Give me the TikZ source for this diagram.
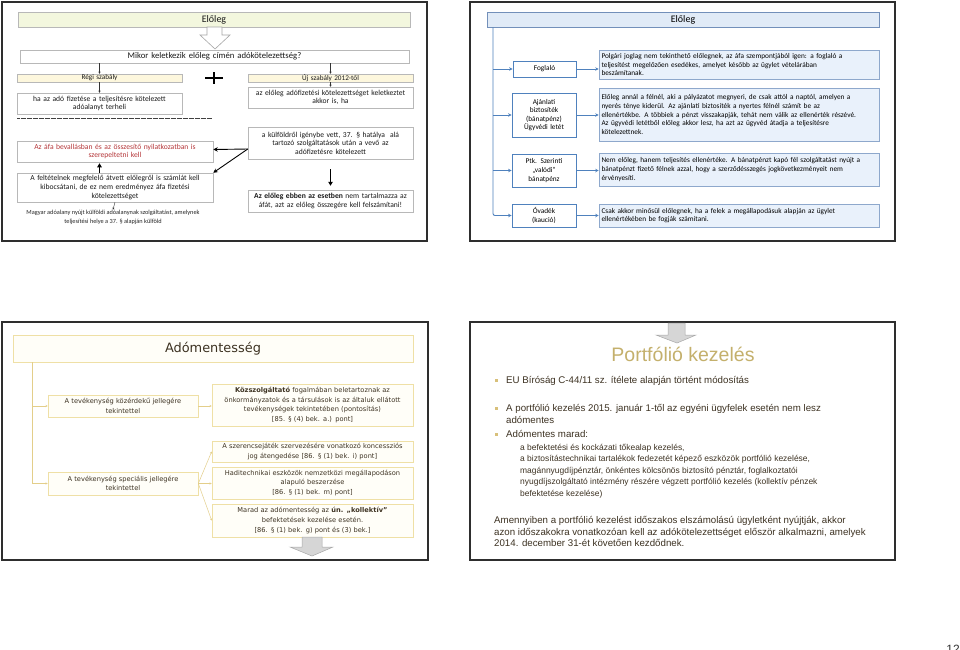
\documentclass[tikz,border=0pt]{standalone}
\usepackage{fontspec}
\setmainfont{Carlito}
\newfontfamily\tahfont{DejaVu Sans}
\newfontfamily\arifont{Liberation Sans}
\usetikzlibrary{arrows.meta,shadows}
\definecolor{framecol}{HTML}{2E2E2E}
\definecolor{tonegreen}{HTML}{F3F7DE}
\definecolor{toneyel}{HTML}{FDF7DD}
\definecolor{boxgray}{HTML}{B8B8B8}
\definecolor{shadowgray}{HTML}{9A9A9A}
\definecolor{myred}{HTML}{B5373A}
\definecolor{bluetitle}{HTML}{E1EBF7}
\definecolor{blueborder}{HTML}{7390BA}
\definecolor{blueline}{HTML}{4F81BD}
\definecolor{bluefill}{HTML}{E9F1FB}
\definecolor{bluedesc}{HTML}{8EA8CC}
\definecolor{tanborder}{HTML}{EFE0A6}
\definecolor{tanline}{HTML}{E3CE8A}
\definecolor{tanfill}{HTML}{FFFEF8}
\definecolor{browntext}{HTML}{3D3222}
\definecolor{khaki}{HTML}{C4B06C}
\definecolor{bulcol}{HTML}{D8C07A}
\definecolor{arrowgray}{HTML}{D6D6D6}
\definecolor{arrowedge}{HTML}{A8A8A8}
\newcommand\mybox[7]{%
  \pgfmathsetmacro\bxw{#5-#3}\pgfmathsetmacro\bxh{#6-#4}%
  \pgfmathsetmacro\bxcx{(#3+#5)/2}\pgfmathsetmacro\bxcy{(#4+#6)/2}%
  \pgfmathsetmacro\bxtw{#5-#3-5}%
  \node[#2, minimum width=\bxw pt, minimum height=\bxh pt, text width=\bxtw pt, inner sep=0pt] (#1) at (\bxcx,\bxcy) {#7};}
\begin{document}
\begin{tikzpicture}[x=1pt,y=-1pt,
  slideframe/.style={draw=framecol, line width=1.4pt},
  shad/.style={drop shadow={shadow xshift=1pt, shadow yshift=-1pt, fill=shadowgray, opacity=1}},
  s1box/.style={draw=boxgray, fill=white, line width=0.5pt, shad, align=center, text=black!90,
     font=\fontsize{7.6}{8.6}\selectfont},
  s1title/.style={s1box, fill=tonegreen, font=\fontsize{10}{12}\selectfont},
  s1yel/.style={s1box, fill=toneyel, font=\fontsize{7.2}{8}\selectfont},
  sarrow/.style={-{Stealth[length=2pt,width=2pt]}, line width=0.4pt, black!80},
  thickarr/.style={-{Triangle[length=4pt,width=4.5pt]}, line width=1.3pt, black},
  karr/.style={-{Stealth[length=4.5pt,width=4.5pt]}, line width=0.9pt, black},
  s2title/.style={draw=blueborder, fill=bluetitle, line width=0.6pt, shad, align=center,
     font=\fontsize{10}{12}\selectfont},
  s2left/.style={draw=blueline, fill=white, line width=0.8pt, align=center,
     font=\fontsize{7.3}{8.6}\selectfont},
  s2desc/.style={draw=bluedesc, fill=bluefill, line width=0.6pt, shad, align=left,
     font=\fontsize{7.3}{8.6}\selectfont},
  barrow/.style={-{Stealth[length=3.5pt,width=3.5pt]}, line width=0.9pt, blueline},
  s3box/.style={draw=tanborder, fill=tanfill, line width=0.6pt, align=center, text=browntext,
     font=\tahfont\fontsize{6.65}{9.6}\selectfont},
  s3title/.style={s3box, font=\tahfont\fontsize{12.9}{15}\selectfont},
  tarrow/.style={-{Stealth[length=2.2pt,width=2.2pt]}, line width=0.5pt, tanline},
  s4text/.style={font=\arifont\fontsize{9.7}{11.6}\selectfont, text=browntext, inner sep=0pt, anchor=base west},
  s4sub/.style={s4text, font=\arifont\fontsize{8.45}{11.6}\selectfont},
  bigarrow/.style={draw=arrowedge, fill=arrowgray, line width=0.5pt}
]
\useasboundingbox (0,0) rectangle (960,649);
\fill[white] (0,0) rectangle (960,649);

% ================= slide 1 =================
\draw[slideframe] (2,2) rectangle (427,241);
\mybox{t1}{s1title}{18}{12}{410}{27}{Előleg}
\draw[draw=gray!70, fill=white, line width=0.6pt] (207,27) -- (222,27) -- (222,35) -- (230,35) -- (215,49) -- (200,35) -- (207,35) -- cycle;
\mybox{q}{s1box, font=\fontsize{8.7}{10}\selectfont}{20}{50}{409}{63}{Mikor keletkezik előleg címén adókötelezettség?}
\mybox{regi}{s1yel}{17}{74}{182}{82}{Régi szabály}
\mybox{uj}{s1yel}{248}{74}{413}{82}{Új szabály 2012-től}
\draw[line width=1.6pt] (205,78) -- (223,78) (214,72) -- (214,84);
\draw[sarrow] (q.south -| regi.north) -- (regi.north);
\draw[sarrow] (q.south -| uj.north) -- (uj.north);
\mybox{ha}{s1box}{17}{93}{182}{114}{ha az adó fizetése a teljesítésre kötelezett\\adóalanyt terheli}
\mybox{az}{s1box}{248}{87}{413}{108}{az előleg adófizetési kötelezettséget keletkeztet\\akkor is, ha}
\draw[sarrow] (regi.south) -- (ha.north);
\draw[sarrow] (uj.south) -- (az.north);
\draw[line width=0.8pt, black!75, dash pattern=on 0.6pt off 0.6pt] (17,118.5) -- (212,118.5);
\mybox{kulf}{s1box}{248}{127}{413}{159}{a külföldről igénybe vett, 37. § hatálya\ \ alá\\tartozó szolgáltatások után a vevő az\\adófizetésre kötelezett}
\mybox{red}{s1box, text=myred}{17}{141}{213}{162}{Az áfa bevallásban és az összesítő nyilatkozatban is\\szerepeltetni kell}
\mybox{felt}{s1box}{17}{173}{213}{202}{A feltételnek megfelelő átvett előlegről is számlát kell\\kibocsátani, de ez nem eredményez áfa fizetési\\kötelezettséget}
\coordinate (kfrom) at ([yshift=-6pt]kulf.west);
\draw[karr] (kfrom) -- ([yshift=2pt]red.east);
\draw[karr] (kfrom) -- (felt.north east);
\draw[thickarr] (felt.north -| regi.south) -- ([yshift=-1pt]red.south -| regi.south);
\node[font=\fontsize{6.3}{9}\selectfont, align=center, text=black!85, inner sep=0pt] (magy) at (113,217)
  {Magyar adóalany nyújt külföldi adóalanynak szolgáltatást, amelynek\\teljesítési helye a 37. § alapján külföld};
\draw[sarrow] (felt.south) -- (magy.north);
\mybox{eleg}{s1box}{248}{190}{413}{212}{\textbf{Az előleg ebben az esetben} nem tartalmazza az\\áfát, azt az előleg összegére kell felszámítani!}
\draw[thickarr] ([yshift=-10pt]kulf.south) -- ([yshift=4pt]eleg.north);

% ================= slide 2 =================
\draw[slideframe] (470,2) rectangle (895,241);
\mybox{t2}{s2title}{487}{12}{879}{27}{Előleg}
\mybox{fog}{s2left}{513}{61}{576}{77}{Foglaló}
\mybox{aja}{s2left}{512}{93}{576}{137}{Ajánlati\\biztosíték\\(bánatpénz)\\Ügyvédi letét}
\mybox{ptk}{s2left}{512}{154}{576}{187}{Ptk. Szerinti\\„valódi”\\bánatpénz}
\mybox{ova}{s2left}{512}{204}{576}{227}{Óvadék\\(kaució)}
\mybox{d1}{s2desc}{599}{50}{879}{79}{Polgári joglag nem tekinthető előlegnek, az áfa szempontjából igen: a foglaló a\\teljesítést megelőzően esedékes, amelyet később az ügylet vételárában\\beszámítanak.}
\mybox{d2}{s2desc}{599}{88}{879}{141}{Előleg annál a félnél, aki a pályázatot megnyeri, de csak attól a naptól, amelyen a\\nyerés ténye kiderül. Az ajánlati biztosíték a nyertes félnél számít be az\\ellenértékbe. A többiek a pénzt visszakapják, tehát nem válik az ellenérték részévé.\\Az ügyvédi letétből előleg akkor lesz, ha azt az ügyvéd átadja a teljesítésre\\kötelezettnek.}
\mybox{d3}{s2desc}{599}{153}{879}{186}{Nem előleg, hanem teljesítés ellenértéke. A bánatpénzt kapó fél szolgáltatást nyújt a\\bánatpénzt fizető félnek azzal, hogy a szerződésszegés jogkövetkezményeit nem\\érvényesíti.}
\mybox{d4}{s2desc}{599}{204}{879}{227}{Csak akkor minősül előlegnek, ha a felek a megállapodásuk alapján az ügylet\\ellenértékében be fogják számítani.}
\coordinate (vx) at (493,0);
\draw[barrow, rounded corners=2pt] (t2.south -| vx) |- (ova.west);
\draw[barrow] (fog.west -| vx) -- (fog.west);
\draw[barrow] (aja.west -| vx) -- (aja.west);
\draw[barrow] (ptk.west -| vx) -- (ptk.west);
\draw[barrow] (fog.east) -- (fog.east -| d1.west);
\draw[barrow] (aja.east) -- (aja.east -| d2.west);
\draw[barrow] (ptk.east) -- (ptk.east -| d3.west);
\draw[barrow] (ova.east) -- (ova.east -| d4.west);

% ================= slide 3 =================
\draw[slideframe] (2,322) rectangle (428,560);
\mybox{t3}{s3title}{13}{335}{413}{362}{Adómentesség}
\mybox{a1}{s3box}{48}{395}{198}{417}{A tevékenység közérdekű jellegére\\tekintettel}
\mybox{b1}{s3box}{212}{384}{413}{426}{\textbf{Közszolgáltató} fogalmában beletartoznak az\\önkormányzatok és a társulások is az általuk ellátott\\tevékenységek tekintetében (pontosítás)\\{[85. § (4) bek. a.) pont]}}
\mybox{a2}{s3box}{48}{472}{198}{495}{A tevékenység speciális jellegére\\tekintettel}
\mybox{b2}{s3box}{212}{441}{413}{462}{A szerencsejáték szervezésére vonatkozó koncessziós\\jog átengedése [86. § (1) bek. i) pont]}
\mybox{b3}{s3box}{212}{467}{413}{499}{Haditechnikai eszközök nemzetközi megállapodáson\\alapuló beszerzése\\{[86. § (1) bek. m) pont]}}
\mybox{b4}{s3box}{212}{504}{413}{537}{Marad az adómentesség az \textbf{ún. „kollektív”}\\befektetések kezelése esetén.\\{[86. § (1) bek. g) pont és (3) bek.]}}
\coordinate (v3) at (32,0);
\draw[tarrow] (t3.south -| v3) |- (a2.west);
\draw[tarrow] (a1.west -| v3) -- (a1.west);
\draw[tarrow] (a1.east) -- (b1.west |- a1.east);
\draw[tarrow] (a2.east) -- (b2.west);
\draw[tarrow] (a2.east) -- (b3.west |- a2.east);
\draw[tarrow] (a2.east) -- (b4.west);
\draw[bigarrow] (302,537) -- (322,537) -- (322,547) -- (333,547) -- (312,556) -- (290,547) -- (302,547) -- cycle;

% ================= slide 4 =================
\draw[slideframe] (470,322) rectangle (895,560);
\draw[bigarrow] (668,323) -- (685,323) -- (685,335) -- (696,335) -- (677,343) -- (656,335) -- (668,335) -- cycle;
\node[font=\arifont\fontsize{19.5}{22}\selectfont, text=khaki, inner sep=0pt] (t4) at (683,354) {Portfólió kezelés};
\fill[bulcol] (494.5,378.5) rectangle (497.5,381.5);
\fill[bulcol] (494.5,406.5) rectangle (497.5,409.5);
\fill[bulcol] (494.5,432.5) rectangle (497.5,435.5);
\node[s4text] (l1) at (506,383.5) {EU Bíróság C-44/11 sz. ítélete alapján történt módosítás};
\node[s4text] (l2) at (506,411.5) {A portfólió kezelés 2015. január 1-től az egyéni ügyfelek esetén nem lesz};
\node[s4text] (l2b) at (506,423) {adómentes};
\node[s4text] (l3) at (506,437.5) {Adómentes marad:};
\node[s4sub] (s1) at (520,450) {a befektetési és kockázati tőkealap kezelés,};
\node[s4sub] (s2) at (520,461.6) {a biztosítástechnikai tartalékok fedezetét képező eszközök portfólió kezelése,};
\node[s4sub] (s3) at (520,473.2) {magánnyugdíjpénztár, önkéntes kölcsönös biztosító pénztár, foglalkoztatói};
\node[s4sub] (s4) at (520,484.8) {nyugdíjszolgáltató intézmény részére végzett portfólió kezelés (kollektív pénzek};
\node[s4sub] (s5) at (520,496.4) {befektetése kezelése)};
\node[s4text] (p1) at (494,523.5) {Amennyiben a portfólió kezelést időszakos elszámolású ügyletként nyújtják, akkor};
\node[s4text] (p2) at (494,535.1) {azon időszakokra vonatkozóan kell az adókötelezettséget először alkalmazni, amelyek};
\node[s4text] (p3) at (494,546.7) {2014. december 31-ét követően kezdődnek.};
\node[font=\arifont\fontsize{12}{14}\selectfont, text=black!80, anchor=north east, inner sep=0pt] (pg) at (960,645) {12};
\end{tikzpicture}
\end{document}
